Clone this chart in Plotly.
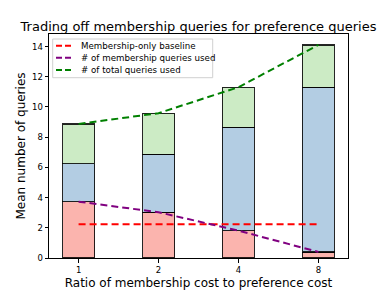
import plotly.graph_objects as go

ratios = ["1", "2", "4", "8"]
membership_used = [3.73, 3.03, 1.81, 0.40]
preference_used = [2.52, 3.84, 6.85, 10.89]
extra_used = [2.62, 2.72, 2.65, 2.82]
total_used = [8.87, 9.59, 11.31, 14.11]
baseline = [2.23, 2.23, 2.23, 2.23]

line_names = ["Membership-only baseline", "# of membership queries used", "# of total queries used"]
line_colors = ["red", "purple", "green"]
line_values = [baseline, membership_used, total_used]

xpos = list(range(len(ratios)))

# plot area in pixels
L, R, T, B = 49, 348, 34, 258
W, H = 387, 290


def px_x(px):
    return (px - L) / (R - L)


def px_y(py):
    return (B - py) / (B - T)


fig = go.Figure()
bar_style = dict(width=0.4, marker_line_color="rgba(0,0,0,0.85)", marker_line_width=1.3,
                 showlegend=False, hoverinfo="skip")
fig.add_trace(go.Bar(x=xpos, y=membership_used, marker_color="#FBB4AE", **bar_style))
fig.add_trace(go.Bar(x=xpos, y=preference_used, marker_color="#B3CDE3", **bar_style))
fig.add_trace(go.Bar(x=xpos, y=extra_used, marker_color="#CCEBC5", **bar_style))

dash = "7px,4px"
for name, color, vals in zip(line_names, line_colors, line_values):
    fig.add_trace(go.Scatter(x=xpos, y=vals, mode="lines", name=name, showlegend=False,
                             line=dict(color=color, width=2, dash=dash)))

# compact matplotlib-style legend
shapes = [dict(type="rect", xref="paper", yref="paper",
               x0=px_x(52.7), x1=px_x(212.7), y0=px_y(77.7), y1=px_y(39),
               line=dict(color="#d0d0d0", width=1), fillcolor="rgba(255,255,255,0.8)", layer="above")]
annotations = []
row_y = [45.7, 57.7, 70.0]
for name, color, ry in zip(line_names, line_colors, row_y):
    shapes.append(dict(type="line", xref="paper", yref="paper",
                       x0=px_x(56), x1=px_x(72), y0=px_y(ry), y1=px_y(ry),
                       line=dict(color=color, width=2, dash="6px,3px"), layer="above"))
    annotations.append(dict(xref="paper", yref="paper", x=px_x(79), y=px_y(ry),
                            xanchor="left", yanchor="middle", text=name, showarrow=False,
                            font=dict(size=8.7, color="black")))

fig.update_layout(
    width=W, height=H,
    barmode="stack",
    paper_bgcolor="white", plot_bgcolor="white",
    margin=dict(l=L, r=W - R, t=T, b=H - B, autoexpand=False),
    font=dict(family="DejaVu Sans", color="black"),
    title=dict(text="Trading off membership queries for preference queries",
               xref="paper", x=0.5, xanchor="center", yref="container", y=1 - 26 / H, yanchor="middle",
               font=dict(size=13)),
    xaxis=dict(range=[-0.37, 3.37], tickmode="array", tickvals=xpos, ticktext=ratios,
               showgrid=False, zeroline=False, showline=True, linecolor="black", linewidth=1,
               mirror=True, ticks="outside", ticklen=3.5, tickwidth=0.8, tickcolor="black",
               tickfont=dict(size=8.5), automargin=False,
               title=dict(text="Ratio of membership cost to preference cost", font=dict(size=12), standoff=4)),
    yaxis=dict(range=[0, 14.83], tickvals=[0, 2, 4, 6, 8, 10, 12, 14],
               showgrid=False, zeroline=False, showline=True, linecolor="black", linewidth=1,
               mirror=True, ticks="outside", ticklen=3.5, tickwidth=0.8, tickcolor="black",
               tickfont=dict(size=8.5), automargin=False,
               title=dict(text="Mean number of queries", font=dict(size=12), standoff=3)),
    shapes=shapes,
    annotations=annotations,
    showlegend=False,
)

fig.write_html("out.html", config={"displayModeBar": False},
               post_script="document.body.style.margin='0';document.body.style.overflow='hidden';")
